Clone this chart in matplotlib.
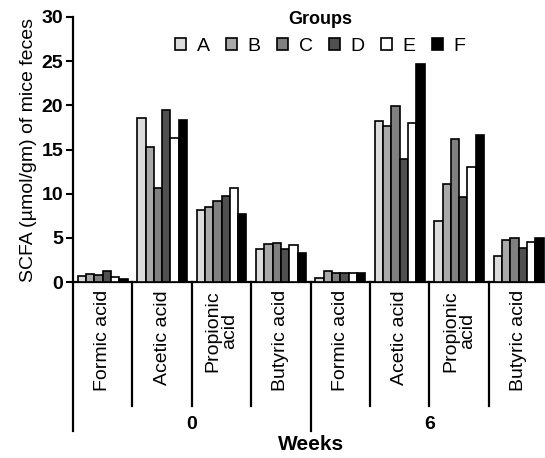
import numpy as np
import matplotlib.pyplot as plt
from matplotlib.patches import Patch
import matplotlib.transforms as mtransforms

plt.rcParams['font.family'] = ['Liberation Sans', 'DejaVu Sans']

groups = ['A', 'B', 'C', 'D', 'E', 'F']
colors = ['#dcdcdc', '#a9a9a9', '#808080', '#505050', '#ffffff', '#000000']
acids = ['Formic acid', 'Acetic acid', 'Propionic\nacid', 'Butyric acid']
weeks = ['0', '6']

# rows = groups A..F, columns = week0 (formic, acetic, propionic, butyric), week6 (same)
values = {
    'A': [0.7, 18.6, 8.2, 3.8, 0.5, 18.2, 6.9, 2.95],
    'B': [0.95, 15.3, 8.45, 4.3, 1.25, 17.7, 11.1, 4.75],
    'C': [0.8, 10.7, 9.2, 4.4, 1.05, 19.9, 16.2, 5.0],
    'D': [1.25, 19.5, 9.75, 3.8, 1.05, 13.9, 9.6, 3.9],
    'E': [0.57, 16.3, 10.7, 4.15, 1.05, 18.0, 13.05, 4.55],
    'F': [0.3, 18.3, 7.75, 3.3, 1.0, 24.7, 16.6, 4.95],
}

fig = plt.figure(figsize=(5.45, 4.58), dpi=100)
ax = fig.add_axes([0.134, 0.384, 0.872, 0.579])

n = len(acids) * len(weeks)
centers = np.arange(n) + 0.5
w = 0.14
for i, g in enumerate(groups):
    ax.bar(centers + (i - 2.5) * w, values[g], width=w, color=colors[i],
           edgecolor='black', linewidth=1.2, zorder=3)

ax.set_xlim(0, n)
ax.set_ylim(0, 30)
ax.set_yticks([0, 5, 10, 15, 20, 25, 30])
ax.set_xticks([])
for lab in ax.get_yticklabels():
    lab.set_fontweight('bold')
ax.tick_params(axis='y', labelsize=14, width=1.5, length=5, pad=2)
ax.spines['top'].set_visible(False)
ax.spines['right'].set_visible(False)
ax.spines['left'].set_linewidth(1.6)
ax.spines['bottom'].set_linewidth(1.6)
ax.set_ylabel('SCFA (\u00b5mol/gm) of mice feces', fontsize=14, labelpad=3)

trans = mtransforms.blended_transform_factory(ax.transData, ax.transAxes)

# category labels under each group
for k in range(n):
    ax.text(centers[k], -0.03, acids[k % len(acids)], rotation=90, ha='center',
            va='top', fontsize=14, transform=trans, multialignment='center',
            linespacing=0.95)

# separators
for k in range(n + 1):
    bottom = -0.562 if k % len(acids) == 0 else -0.468
    ax.plot([k, k], [0, bottom], color='black', lw=1.6, transform=trans,
            clip_on=False)

for j, wk in enumerate(weeks):
    ax.text(j * len(acids) + len(acids) / 2, -0.538, wk, ha='center', va='center',
            fontsize=14, fontweight='bold', transform=trans)
ax.text(n / 2, -0.612, 'Weeks', ha='center', va='center', fontsize=15,
        fontweight='bold', transform=trans)

handles = [Patch(facecolor=c, edgecolor='black', linewidth=1.2) for c in colors]
leg = fig.legend(handles, groups, ncol=6, frameon=False, loc='upper center',
                 bbox_to_anchor=(0.588, 1.005), title='Groups', fontsize=14,
                 handlelength=0.55, handleheight=0.55, handletextpad=0.55,
                 columnspacing=0.85, borderpad=0.2)
leg.get_title().set_fontweight('bold')
leg.get_title().set_fontsize(13)

fig.savefig('out.png', dpi=100)
